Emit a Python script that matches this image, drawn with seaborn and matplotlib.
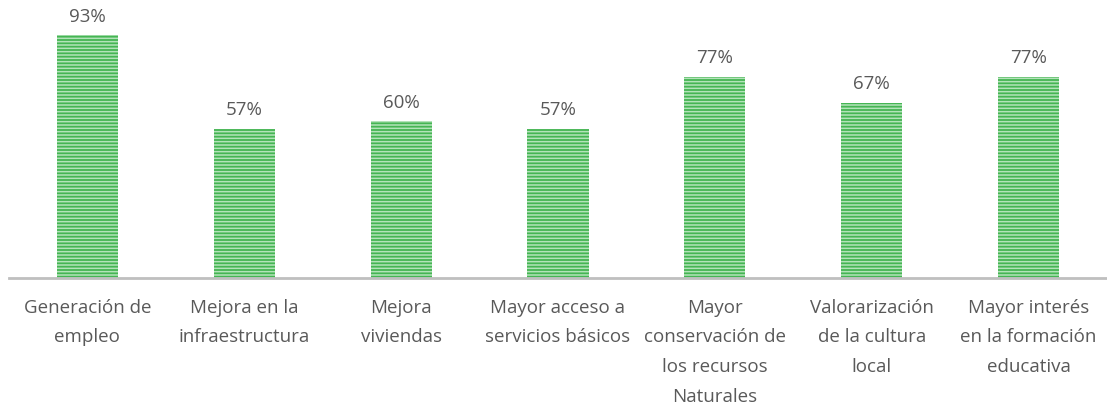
import matplotlib
matplotlib.use('Agg')
from matplotlib import pyplot as plt
import seaborn as sns
import pandas as pd

categorias = [
    'Generación de\nempleo',
    'Mejora en la\ninfraestructura',
    'Mejora\nviviendas',
    'Mayor acceso a\nservicios básicos',
    'Mayor\nconservación de\nlos recursos\nNaturales',
    'Valorarización\nde la cultura\nlocal',
    'Mayor interés\nen la formación\neducativa',
]
porcentajes = [93, 57, 60, 57, 77, 67, 77]

sns.set_style('white')
plt.rcParams['font.family'] = ['Open Sans', 'DejaVu Sans']
plt.rcParams['hatch.linewidth'] = 1.1

data = pd.DataFrame({'categoria': categorias, 'valor': porcentajes})

fig = plt.figure(figsize=(11.07, 4.04), dpi=100)
ax = fig.add_axes([9 / 1107, 1 - 278 / 404, 1 - 9 / 1107, 278 / 404])

sns.barplot(data=data, x='categoria', y='valor', color='#45B553',
            width=0.39, saturation=1, ax=ax)

# rayas horizontales claras como en el original
for p in ax.patches:
    p.set_hatch('-----')
    p.set_edgecolor('#B3E3B9')
    p.set_linewidth(0)

ax.bar_label(ax.containers[0], labels=[f'{v}%' for v in porcentajes],
             padding=7, fontsize=13.5, color='#595959')

ax.set_xlim(-0.5, 6.5)
ax.set_ylim(0, 106.5)
ax.set_xlabel('')
ax.set_ylabel('')
ax.set_yticks([])
ax.tick_params(axis='x', length=0, pad=15, labelsize=13.5, labelcolor='#595959')
for lbl in ax.get_xticklabels():
    lbl.set_linespacing(1.83)

for side in ['top', 'right', 'left']:
    ax.spines[side].set_visible(False)
ax.spines['bottom'].set_color('#BFBFBF')
ax.spines['bottom'].set_linewidth(2)

fig.savefig('out.png', dpi=100)
